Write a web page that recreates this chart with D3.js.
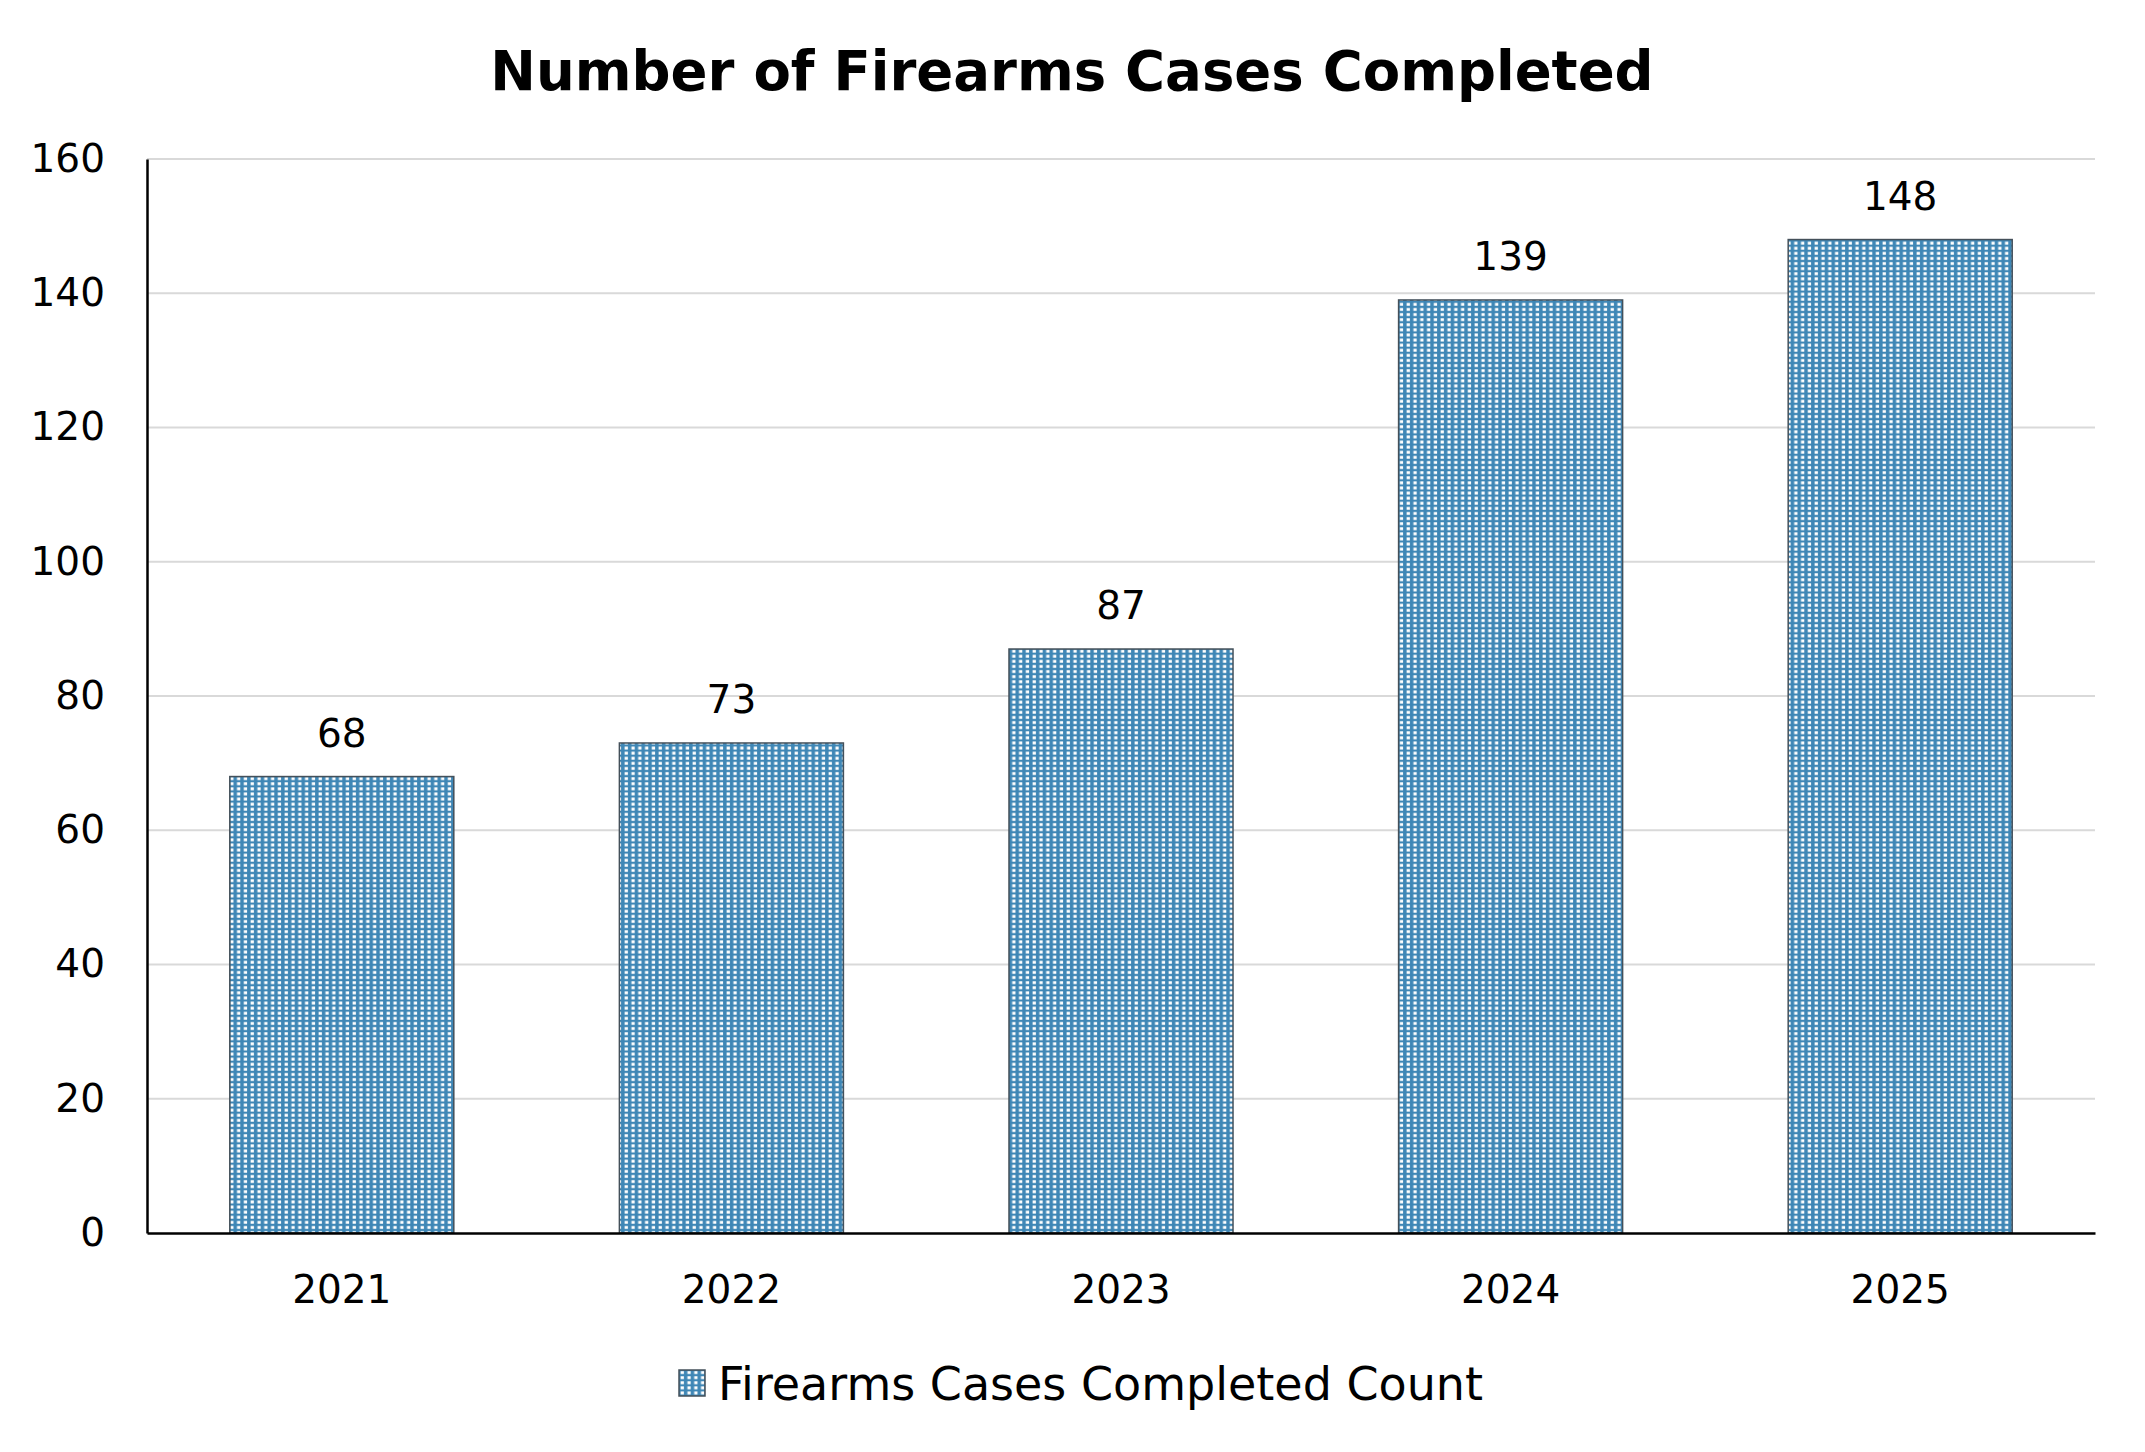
<!DOCTYPE html>
<html>
<head>
<meta charset="utf-8">
<script src="https://cdn.jsdelivr.net/npm/d3@7"></script>
<style>
  body { margin: 0; background: #fff; }
  svg { display: block; font-family: "DejaVu Sans", Verdana, sans-serif; }
</style>
</head>
<body>
<div id="chart"></div>
<script>
// data
var years = ["2021", "2022", "2023", "2024", "2025"];
var counts = [68, 73, 87, 139, 148];
var yTicks = [0, 20, 40, 60, 80, 100, 120, 140, 160];
var seriesName = "Firearms Cases Completed Count";
var chartTitle = "Number of Firearms Cases Completed";

var svgWidth = 2145;
var svgHeight = 1452;

var margin = { top: 159, right: 50, bottom: 219, left: 147 };
var width = svgWidth - margin.left - margin.right;
var height = svgHeight - margin.top - margin.bottom;

var svg = d3.select("#chart")
  .append("svg")
  .attr("width", svgWidth)
  .attr("height", svgHeight);

// dotted fill like the original bars
var defs = svg.append("defs");
var pat = defs.append("pattern")
  .attr("id", "dots")
  .attr("patternUnits", "userSpaceOnUse")
  .attr("width", 6.8)
  .attr("height", 5.1);
pat.append("rect")
  .attr("width", 6.8).attr("height", 5.1)
  .attr("fill", "#3f87b6");
pat.append("rect")
  .attr("x", 1.6).attr("y", 1.1)
  .attr("width", 3.3).attr("height", 2.9)
  .attr("fill", "#ffffff");

var chartGroup = svg.append("g")
  .attr("transform", `translate(${margin.left}, ${margin.top})`);

var xScale = d3.scaleBand()
  .domain(years)
  .range([0, width])
  .paddingInner(0.425)
  .paddingOuter(0.2125);

var yScale = d3.scaleLinear()
  .domain([0, 160])
  .range([height, 0]);

// gridlines
chartGroup.append("g")
  .selectAll("line")
  .data(yTicks.filter(d => d > 0))
  .enter()
  .append("line")
  .attr("x1", 0)
  .attr("x2", width)
  .attr("y1", d => yScale(d))
  .attr("y2", d => yScale(d))
  .attr("stroke", "#d9d9d9")
  .attr("stroke-width", 2);

// bars
chartGroup.append("g")
  .selectAll("rect")
  .data(counts)
  .enter()
  .append("rect")
  .attr("x", (d, i) => xScale(years[i]))
  .attr("y", d => yScale(d))
  .attr("width", xScale.bandwidth())
  .attr("height", d => height - yScale(d))
  .attr("fill", "url(#dots)")
  .attr("stroke", "#44505a")
  .attr("stroke-width", 1.5);

// value labels
chartGroup.append("g")
  .selectAll("text")
  .data(counts)
  .enter()
  .append("text")
  .attr("x", (d, i) => xScale(years[i]) + xScale.bandwidth() / 2)
  .attr("y", d => yScale(d) - 30)
  .attr("text-anchor", "middle")
  .attr("font-size", 39)
  .attr("fill", "#000")
  .text(d => d);

// y axis
var leftAxis = d3.axisLeft(yScale)
  .tickValues(yTicks)
  .tickSize(0)
  .tickPadding(42);

var yAxis = chartGroup.append("g")
  .call(leftAxis);
yAxis.select(".domain").attr("stroke", "#000").attr("stroke-width", 2.5);
yAxis.selectAll("text")
  .attr("font-size", 39)
  .attr("font-family", "DejaVu Sans, Verdana, sans-serif")
  .attr("fill", "#000");

// x axis
var bottomAxis = d3.axisBottom(xScale)
  .tickSize(0)
  .tickPadding(42);

var xAxis = chartGroup.append("g")
  .attr("transform", `translate(0, ${height})`)
  .call(bottomAxis);
xAxis.select(".domain").attr("stroke", "#000").attr("stroke-width", 2.5);
xAxis.selectAll("text")
  .attr("font-size", 39)
  .attr("font-family", "DejaVu Sans, Verdana, sans-serif")
  .attr("fill", "#000");

// title
svg.append("text")
  .attr("x", 1072)
  .attr("y", 90)
  .attr("text-anchor", "middle")
  .attr("font-size", 54.5)
  .attr("font-weight", "bold")
  .attr("fill", "#000")
  .text(chartTitle);

// legend
var legend = svg.append("g")
  .attr("transform", "translate(679, 1370)");
legend.append("rect")
  .attr("width", 26)
  .attr("height", 26)
  .attr("fill", "url(#dots)")
  .attr("stroke", "#44505a")
  .attr("stroke-width", 1.5);
legend.append("text")
  .attr("x", 39)
  .attr("y", 30)
  .attr("font-size", 46)
  .attr("fill", "#000")
  .text(seriesName);
</script>
</body>
</html>
